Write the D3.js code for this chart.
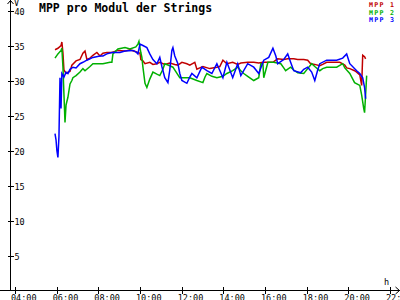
<!DOCTYPE html>
<html>
<head>
<meta charset="utf-8">
<script src="https://cdn.jsdelivr.net/npm/d3@7"></script>
<style>
  html, body { margin: 0; padding: 0; background: #fff; }
  svg { display: block; font-family: "DejaVu Sans Mono", "Liberation Mono", monospace; }
</style>
</head>
<body>
<div id="chart"></div>
<script>
// MPP pro Modul der Strings - Spannung in V ueber die Uhrzeit

var xTicks = [4, 6, 8, 10, 12, 14, 16, 18, 20, 22];
var yTicks = [5, 10, 15, 20, 25, 30, 35, 40];
var seriesNames = ["MPP 1", "MPP 2", "MPP 3"];
var seriesColors = ["#c00000", "#00b000", "#0000ff"];

var t1 = [5.92, 6.06, 6.21, 6.25, 6.30, 6.35, 6.45, 6.54, 6.64, 6.73, 6.93, 7.12, 7.26, 7.36, 7.45, 7.60, 7.74, 7.93,
  8.08, 8.22, 8.41, 8.65, 8.94, 9.28, 9.52, 9.80, 10.00, 10.04, 10.14, 10.24, 10.47, 10.62, 10.81, 10.95, 11.19,
  11.43, 11.67, 11.82, 12.01, 12.25, 12.39, 12.63, 12.73, 12.87, 13.02, 13.35, 13.69, 13.83, 13.98, 14.17, 14.45,
  14.69, 14.84, 15.17, 15.46, 15.70, 15.90, 16.14, 16.38, 16.52, 16.61, 16.90, 17.09, 17.38, 17.57, 17.86, 18.05,
  18.19, 18.39, 18.63, 18.77, 18.96, 19.25, 19.59, 19.83, 19.92, 20.07, 20.30, 20.40, 20.55, 20.64, 20.69, 20.78, 20.83];
var mpp1 = [34.4, 34.6, 35.0, 35.5, 34.0, 31.5, 31.0, 31.2, 31.3, 32.2, 32.8, 33.0, 33.9, 34.2, 33.0, 33.2, 33.6, 34.0,
  33.5, 33.9, 34.0, 34.0, 34.3, 34.2, 34.4, 34.1, 33.9, 33.0, 32.8, 32.4, 32.6, 32.3, 32.4, 32.6, 32.3,
  32.5, 32.3, 32.2, 32.6, 32.4, 32.2, 32.6, 31.6, 31.8, 32.0, 31.7, 31.9, 32.0, 32.9, 32.4, 32.6,
  32.3, 32.5, 32.6, 32.6, 32.5, 32.6, 32.6, 32.6, 32.9, 33.1, 33.0, 33.1, 33.1, 33.0, 33.0, 32.9,
  32.4, 32.3, 32.1, 32.3, 32.6, 32.6, 32.6, 32.2, 31.8, 31.7, 31.4, 31.2, 30.8, 29.3, 33.6, 33.4, 33.1];

var t2 = [5.92, 6.06, 6.21, 6.25, 6.30, 6.35, 6.40, 6.45, 6.49, 6.54, 6.64, 6.73, 6.78, 6.93, 7.12, 7.26, 7.36, 7.60,
  7.74, 7.93, 8.22, 8.56, 8.65, 8.70, 8.94, 9.28, 9.52, 9.80, 9.90, 9.95, 10.04, 10.09, 10.14, 10.24, 10.33, 10.47,
  10.62, 10.81, 10.95, 11.10, 11.19, 11.43, 11.58, 11.82, 11.91, 12.25, 12.39, 12.73, 13.02, 13.12, 13.21, 13.45,
  13.69, 13.98, 14.17, 14.45, 14.69, 14.84, 14.98, 15.17, 15.46, 15.70, 15.80, 15.90, 15.94, 16.04, 16.14, 16.42,
  16.76, 16.90, 16.99, 17.23, 17.38, 17.57, 17.86, 18.05, 18.24, 18.39, 18.63, 18.77, 18.96, 19.44, 19.73, 19.83,
  20.07, 20.30, 20.55, 20.64, 20.74, 20.78, 20.83, 20.88];
var mpp2 = [33.2, 33.8, 34.3, 34.6, 32.0, 28.0, 24.0, 26.5, 27.0, 27.6, 29.5, 30.0, 30.4, 30.7, 31.2, 31.7, 31.4, 32.0,
  32.4, 32.4, 32.4, 32.6, 32.6, 33.8, 34.5, 34.7, 34.5, 34.8, 35.2, 35.6, 34.0, 33.3, 31.9, 29.6, 29.0, 30.2,
  31.2, 30.9, 30.7, 31.6, 32.4, 32.1, 31.9, 30.8, 30.4, 30.4, 30.4, 30.0, 29.7, 30.5, 31.0, 30.6,
  30.4, 30.6, 31.0, 31.4, 31.9, 31.4, 31.0, 30.6, 30.0, 30.4, 32.4, 32.4, 30.4, 31.5, 32.6, 32.6,
  32.4, 31.8, 31.4, 31.9, 31.5, 31.1, 31.0, 31.7, 32.4, 32.0, 31.4, 31.7, 31.9, 31.9, 32.4, 31.8,
  31.0, 29.7, 29.3, 27.9, 26.0, 25.4, 28.0, 30.7];

var t3 = [5.92, 5.97, 6.01, 6.06, 6.11, 6.16, 6.21, 6.25, 6.35, 6.45, 6.54, 6.64, 6.78, 6.93, 7.12, 7.26, 7.45, 7.60,
  7.74, 8.08, 8.22, 8.41, 8.65, 9.04, 9.28, 9.66, 9.80, 9.90, 10.00, 10.14, 10.33, 10.47, 10.62, 10.81, 10.95, 11.05,
  11.19, 11.34, 11.43, 11.53, 11.58, 11.67, 11.82, 11.91, 12.01, 12.25, 12.39, 12.49, 12.73, 12.97, 13.21, 13.45,
  13.69, 13.98, 14.17, 14.45, 14.69, 14.84, 15.17, 15.46, 15.70, 15.94, 16.18, 16.38, 16.52, 16.61, 16.90, 17.09,
  17.23, 17.38, 17.71, 17.86, 18.05, 18.24, 18.39, 18.53, 18.63, 18.96, 19.44, 19.73, 19.92, 20.07, 20.40, 20.55,
  20.69, 20.78, 20.83];
var mpp3 = [22.4, 21.5, 20.0, 19.0, 22.0, 30.4, 26.0, 31.0, 30.5, 31.2, 31.0, 31.6, 31.9, 31.8, 32.4, 32.6, 32.9, 33.1,
  33.3, 33.5, 33.5, 33.8, 34.0, 34.0, 34.2, 34.3, 34.1, 33.8, 35.2, 35.0, 34.7, 33.8, 33.0, 32.4, 33.3, 32.0,
  30.4, 29.7, 31.5, 34.3, 34.7, 33.5, 32.4, 31.0, 30.0, 29.6, 30.5, 31.0, 30.4, 31.9, 31.4, 31.0,
  32.4, 30.4, 32.6, 30.4, 32.4, 30.7, 32.4, 31.9, 31.0, 32.9, 33.3, 34.6, 33.5, 32.4, 33.0, 33.8,
  32.6, 31.4, 31.1, 31.6, 31.9, 31.2, 30.0, 31.5, 32.4, 32.9, 32.9, 33.2, 33.8, 32.4, 31.4, 31.0,
  30.4, 29.0, 27.4];

var W = 400, H = 300;

var svg = d3.select("#chart")
  .append("svg")
    .attr("width", W)
    .attr("height", H);

var x = d3.scaleLinear().domain([4, 22]).range([15, 390]);
var y = d3.scaleLinear().domain([0, 40]).range([290.5, 10.5]);

function pad(n) { return (n < 10 ? "0" : "") + n; }

// axes lines
svg.append("line")
  .attr("x1", 0).attr("x2", W)
  .attr("y1", 290.5).attr("y2", 290.5)
  .attr("stroke", "#000");
svg.append("line")
  .attr("x1", 10.5).attr("x2", 10.5)
  .attr("y1", 0).attr("y2", 290.5)
  .attr("stroke", "#000");

// arrows
svg.append("path")
  .attr("d", "M7.5,4L10.5,0.5L13.5,4")
  .attr("fill", "none").attr("stroke", "#000");
svg.append("path")
  .attr("d", "M395.5,287L399.5,290.5L395.5,294")
  .attr("fill", "none").attr("stroke", "#000");

// x ticks
svg.append("g")
  .selectAll("line")
  .data(xTicks)
  .enter()
  .append("line")
    .attr("x1", function (d) { return Math.round(x(d)) + 0.5; })
    .attr("x2", function (d) { return Math.round(x(d)) + 0.5; })
    .attr("y1", 287)
    .attr("y2", 294)
    .attr("stroke", "#000");

svg.append("g")
  .selectAll("text")
  .data(xTicks)
  .enter()
  .append("text")
    .attr("x", function (d) { return x(d) - 4; })
    .attr("y", 301)
    .attr("font-size", 8.5)
    .text(function (d) { return pad(d) + ":00"; });

// y ticks
svg.append("g")
  .selectAll("line")
  .data(yTicks)
  .enter()
  .append("line")
    .attr("x1", 8)
    .attr("x2", 14)
    .attr("y1", function (d) { return Math.round(y(d)) + 0.5; })
    .attr("y2", function (d) { return Math.round(y(d)) + 0.5; })
    .attr("stroke", "#000");

svg.append("g")
  .selectAll("text")
  .data(yTicks)
  .enter()
  .append("text")
    .attr("x", 14.5)
    .attr("y", function (d) { return y(d) + 4; })
    .attr("font-size", 8.5)
    .text(function (d) { return d; });

// unit labels
svg.append("text").attr("x", 14).attr("y", 6).attr("font-size", 8.5).text("V");
svg.append("text").attr("x", 384).attr("y", 285).attr("font-size", 8.5).text("h");

// title
svg.append("text")
  .attr("x", 39)
  .attr("y", 12)
  .attr("font-size", 11.5)
  .attr("font-weight", "bold")
  .text("MPP pro Modul der Strings");

// legend
svg.append("g")
  .selectAll("text")
  .data(seriesNames)
  .enter()
  .append("text")
    .attr("x", 369)
    .attr("y", function (d, i) { return 7 + i * 7.7; })
    .attr("font-size", 6.6)
    .attr("letter-spacing", 1.3)
    .attr("font-weight", "bold")
    .attr("fill", function (d, i) { return seriesColors[i]; })
    .text(function (d) { return d; });

// lines
var series = [[t1, mpp1], [t2, mpp2], [t3, mpp3]];
var line = d3.line()
  .x(function (d) { return x(d[0]); })
  .y(function (d) { return y(d[1]); });

svg.append("g")
  .selectAll("path")
  .data(series)
  .enter()
  .append("path")
    .attr("d", function (s) { return line(d3.zip(s[0], s[1])); })
    .attr("fill", "none")
    .attr("stroke", function (d, i) { return seriesColors[i]; })
    .attr("stroke-width", 1.5)
    .attr("stroke-linejoin", "miter");
</script>
</body>
</html>
